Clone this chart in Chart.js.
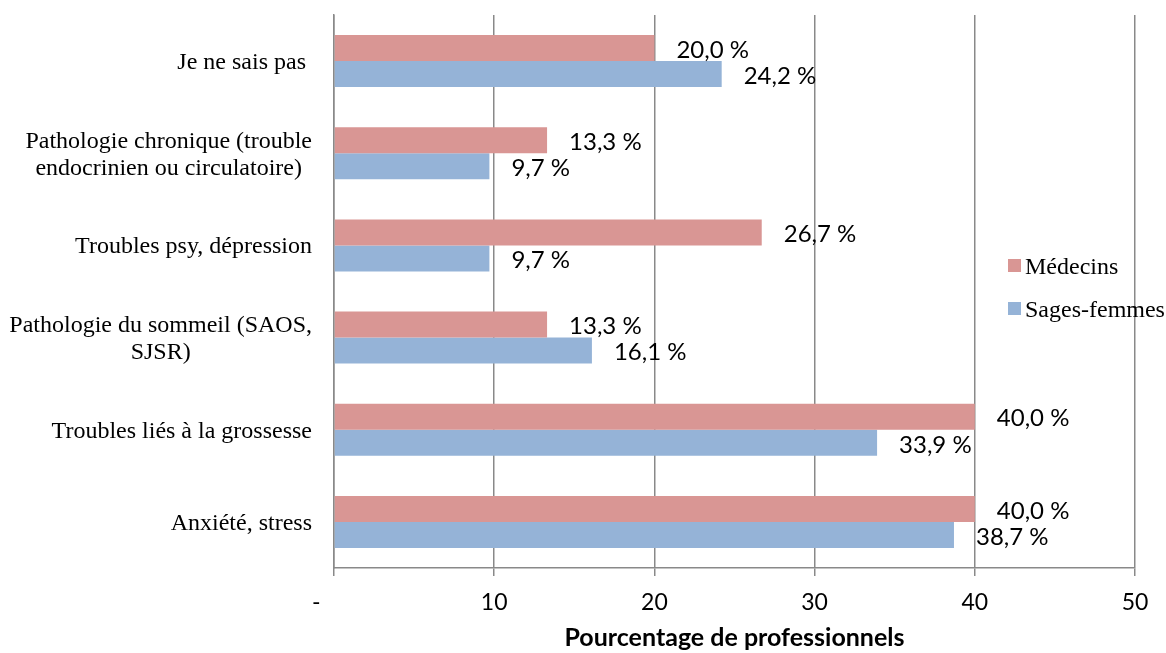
<!DOCTYPE html>
<html lang="fr">
<head>
<meta charset="utf-8">
<title>Pourcentage de professionnels</title>
<script src="https://cdn.jsdelivr.net/npm/chart.js@4/dist/chart.umd.min.js"></script>
<style>
    html, body { margin: 0; padding: 0; background: #fff; }
    #wrap { width: 1166px; height: 653px; }
</style>
</head>
<body>
<div id="wrap"><canvas id="chart" width="1166" height="653"></canvas></div>
<script>
// Categories, top to bottom (one entry per wrapped line)
const categories = [
    ['Je ne sais pas '],
    ['Pathologie chronique (trouble', 'endocrinien ou circulatoire)'],
    ['Troubles psy, dépression'],
    ['Pathologie du sommeil (SAOS,', 'SJSR)'],
    ['Troubles liés à la grossesse'],
    ['Anxiété, stress']
];

const seriesNames = ['Médecins', 'Sages-femmes'];
const medecins = [20.0, 13.3, 26.7, 13.3, 40.0, 40.0];
const sagesFemmes = [24.2, 9.7, 9.7, 16.1, 33.9, 38.7];

const xTicks = [0, 10, 20, 30, 40, 50];
const axisTitle = 'Pourcentage de professionnels';

const colors = ['#D99694', '#95B3D7'];
const gridColor = '#898989';

// format 20 -> "20,0 %"
function formatPercent(v) {
    return v.toFixed(1).replace('.', ',') + ' %';
}

// Draws value labels, category labels and the legend
const annotatePlugin = {
    id: 'annotate',
    afterDatasetsDraw(chart) {
        const ctx = chart.ctx;
        const yScale = chart.scales.y;

        ctx.save();

        // value labels at bar ends
        ctx.font = '24px Lato';
        ctx.fillStyle = '#000';
        ctx.textAlign = 'left';
        ctx.textBaseline = 'middle';
        chart.data.datasets.forEach((ds, i) => {
            const meta = chart.getDatasetMeta(i);
            meta.data.forEach((bar, j) => {
                ctx.fillText(formatPercent(ds.data[j]), bar.x + 22, bar.y + 2);
            });
        });

        // category labels: lines centred within each label, block right aligned
        ctx.font = '24px "Liberation Serif"';
        ctx.textAlign = 'center';
        ctx.textBaseline = 'alphabetic';
        const rightEdge = 312;
        const lineH = 27;
        categories.forEach((lines, i) => {
            const cy = yScale.getPixelForValue(i);
            const widest = Math.max(...lines.map(l => ctx.measureText(l).width));
            const cx = rightEdge - widest / 2;
            lines.forEach((line, k) => {
                const mid = cy + (k - (lines.length - 1) / 2) * lineH;
                ctx.fillText(line, cx, mid + 8);
            });
        });

        // legend
        ctx.textAlign = 'left';
        const legendY = [266, 309];
        seriesNames.forEach((name, i) => {
            ctx.fillStyle = colors[i];
            ctx.fillRect(1008, legendY[i] - 7, 13, 13);
            ctx.fillStyle = '#000';
            ctx.fillText(name, 1025, legendY[i] + 8);
        });

        ctx.restore();
    }
};

document.addEventListener('DOMContentLoaded', function() {
    const ctx = document.getElementById('chart');

    new Chart(ctx, {
        type: 'bar',
        data: {
            labels: categories,
            datasets: [{
                label: seriesNames[0],
                data: medecins,
                backgroundColor: colors[0],
                categoryPercentage: 0.565,
                barPercentage: 1.0
            }, {
                label: seriesNames[1],
                data: sagesFemmes,
                backgroundColor: colors[1],
                categoryPercentage: 0.565,
                barPercentage: 1.0
            }]
        },
        options: {
            indexAxis: 'y',
            responsive: false,
            animation: false,
            layout: {
                padding: { top: 15, right: 31, bottom: 0, left: 0 }
            },
            plugins: {
                legend: { display: false },
                tooltip: { enabled: false }
            },
            scales: {
                x: {
                    min: 0,
                    max: 50,
                    afterBuildTicks: function(scale) {
                        scale.ticks = xTicks.map(v => ({ value: v }));
                    },
                    afterFit: function(scale) {
                        scale.height = 85;
                    },
                    grid: {
                        color: gridColor,
                        lineWidth: 1.5,
                        drawTicks: true,
                        tickLength: 8,
                        tickColor: gridColor
                    },
                    border: {
                        display: true,
                        color: gridColor,
                        width: 1.5
                    },
                    ticks: {
                        padding: 13,
                        color: '#000',
                        font: { family: 'Lato', size: 23 },
                        callback: function(value) {
                            return value === 0 ? '-      ' : String(value);
                        }
                    },
                    title: {
                        display: true,
                        text: axisTitle,
                        color: '#000',
                        font: { family: 'Lato', size: 25, weight: 'bold' },
                        padding: { top: 0, bottom: 0 }
                    }
                },
                y: {
                    afterFit: function(scale) {
                        scale.width = 334;
                    },
                    grid: { display: false },
                    border: {
                        display: true,
                        color: gridColor,
                        width: 1.5
                    },
                    ticks: { display: false }
                }
            }
        },
        plugins: [annotatePlugin]
    });
});
</script>
</body>
</html>
